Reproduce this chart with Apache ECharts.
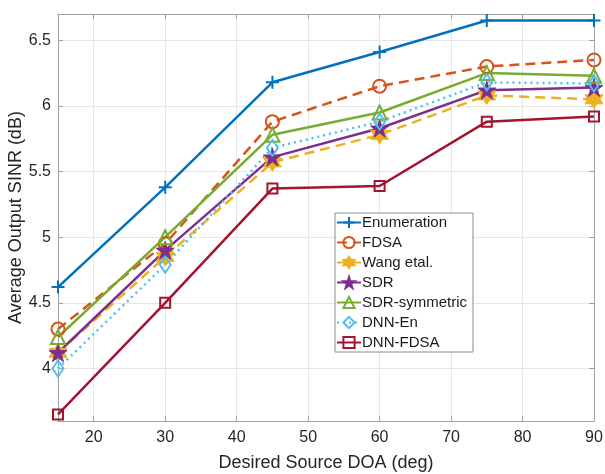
<!DOCTYPE html>
<html>
<head>
    <meta charset="utf-8">
    <title>SINR vs DOA</title>
    <script src="https://cdn.jsdelivr.net/npm/echarts@6/dist/echarts.min.js"></script>
    <style>
        body { margin: 0; background: #fff; }
        #chart { width: 605px; height: 474px; }
    </style>
</head>
<body>
    <div id="chart"></div>
    <script>
        var doa = [15, 30, 45, 60, 75, 90];
        var xTicks = [20, 30, 40, 50, 60, 70, 80, 90];
        var yTicks = [4, 4.5, 5, 5.5, 6, 6.5];

        var enumeration = [4.62, 5.38, 6.18, 6.41, 6.65, 6.65];
        var fdsa = [4.30, 4.95, 5.88, 6.15, 6.30, 6.35];
        var wang = [4.12, 4.85, 5.57, 5.78, 6.08, 6.05];
        var sdr = [4.12, 4.90, 5.61, 5.83, 6.12, 6.14];
        var sdrSym = [4.24, 5.00, 5.78, 5.95, 6.25, 6.23];
        var dnnEn = [4.00, 4.79, 5.68, 5.88, 6.18, 6.17];
        var dnnFdsa = [3.65, 4.50, 5.37, 5.39, 5.88, 5.92];

        var crossPath = 'path://M0,-100L0,100M-100,0L100,0';
        var hexPath = 'path://M0,-100L28.9,-50L86.6,-50L57.7,0L86.6,50L28.9,50L0,100L-28.9,50L-86.6,50L-57.7,0L-86.6,-50L-28.9,-50Z';
        var pentPath = 'path://M0,-100L22.45,-30.9L95.1,-30.9L36.3,11.8L58.8,80.9L0,38.2L-58.8,80.9L-36.3,11.8L-95.1,-30.9L-22.45,-30.9Z';

        function pairs(vals) {
            return doa.map(function(d, i) { return [d, vals[i]]; });
        }

        function makeSeries(name, vals, color, symbol, size, dash, filled) {
            return {
                name: name,
                type: 'line',
                data: pairs(vals),
                symbol: symbol,
                symbolSize: size,
                showAllSymbol: true,
                lineStyle: { color: color, width: 2.5, type: dash },
                itemStyle: {
                    color: filled ? color : 'transparent',
                    borderColor: color,
                    borderWidth: filled ? 1 : 2
                },
                emphasis: { disabled: true },
                animation: false
            };
        }

        var axisColor = '#a0a0a0';
        var textColor = '#262626';
        var font = 'Liberation Sans';

        var chart = echarts.init(document.getElementById('chart'));
        chart.setOption({
            backgroundColor: '#fff',
            grid: { left: 58, right: 11, top: 14, bottom: 53, outerBoundsMode: 'none', containLabel: false },
            legend: {
                orient: 'vertical',
                left: 335,
                top: 213,
                itemWidth: 24,
                itemHeight: 14,
                itemGap: 5,
                padding: [2, 6, 2, 1],
                backgroundColor: '#fff',
                borderColor: '#8c8c8c',
                borderWidth: 1,
                textStyle: { fontFamily: font, fontSize: 15, color: '#1a1a1a', padding: [0, 0, 0, -4] },
                data: ['Enumeration', 'FDSA', 'Wang etal.', 'SDR', 'SDR-symmetric', 'DNN-En', 'DNN-FDSA']
            },
            xAxis: [{
                type: 'value',
                min: 15,
                max: 90,
                name: 'Desired Source DOA (deg)',
                nameLocation: 'middle',
                nameGap: 33,
                nameTextStyle: { fontFamily: font, fontSize: 18, color: textColor },
                axisLine: { lineStyle: { color: axisColor, width: 1 } },
                axisTick: { inside: true, length: 5, customValues: xTicks, lineStyle: { color: axisColor } },
                axisLabel: { customValues: xTicks, fontFamily: font, fontSize: 16, color: textColor, margin: 9 },
                splitLine: { show: true, lineStyle: { color: '#e6e6e6', width: 1 } }
            }, {
                type: 'value',
                position: 'top',
                min: 15,
                max: 90,
                axisLine: { show: true, onZero: false, lineStyle: { color: axisColor, width: 1 } },
                axisTick: { inside: true, length: 5, customValues: xTicks, lineStyle: { color: axisColor } },
                axisLabel: { show: false },
                splitLine: { show: false }
            }],
            yAxis: [{
                type: 'value',
                min: 3.6,
                max: 6.7,
                name: 'Average Output SINR (dB)',
                nameLocation: 'middle',
                nameGap: 33,
                nameMoveOverlap: false,
                nameTextStyle: { fontFamily: font, fontSize: 18, color: textColor },
                axisLine: { show: true, lineStyle: { color: axisColor, width: 1 } },
                axisTick: { show: true, inside: true, length: 5, customValues: yTicks, lineStyle: { color: axisColor } },
                axisLabel: { customValues: yTicks, fontFamily: font, fontSize: 16, color: textColor, margin: 7 },
                splitLine: { show: true, lineStyle: { color: '#e6e6e6', width: 1 } }
            }, {
                type: 'value',
                position: 'right',
                min: 3.6,
                max: 6.7,
                axisLine: { show: true, onZero: false, lineStyle: { color: axisColor, width: 1 } },
                axisTick: { show: true, inside: true, length: 5, customValues: yTicks, lineStyle: { color: axisColor } },
                axisLabel: { show: false },
                splitLine: { show: false }
            }],
            series: [
                makeSeries('Enumeration', enumeration, '#0072BD', crossPath, 13, 'solid', false),
                makeSeries('FDSA', fdsa, '#D95319', 'circle', 13, [10, 6], false),
                makeSeries('Wang etal.', wang, '#EDB120', hexPath, 18, [10, 6], true),
                makeSeries('SDR', sdr, '#7E2F8E', pentPath, 18, 'solid', true),
                makeSeries('SDR-symmetric', sdrSym, '#77AC30', 'triangle', 14, 'solid', false),
                makeSeries('DNN-En', dnnEn, '#4DBEEE', 'diamond', [11, 16], [2, 4], false),
                makeSeries('DNN-FDSA', dnnFdsa, '#A2142F', 'rect', 10, 'solid', false)
            ]
        });
    </script>
</body>
</html>
